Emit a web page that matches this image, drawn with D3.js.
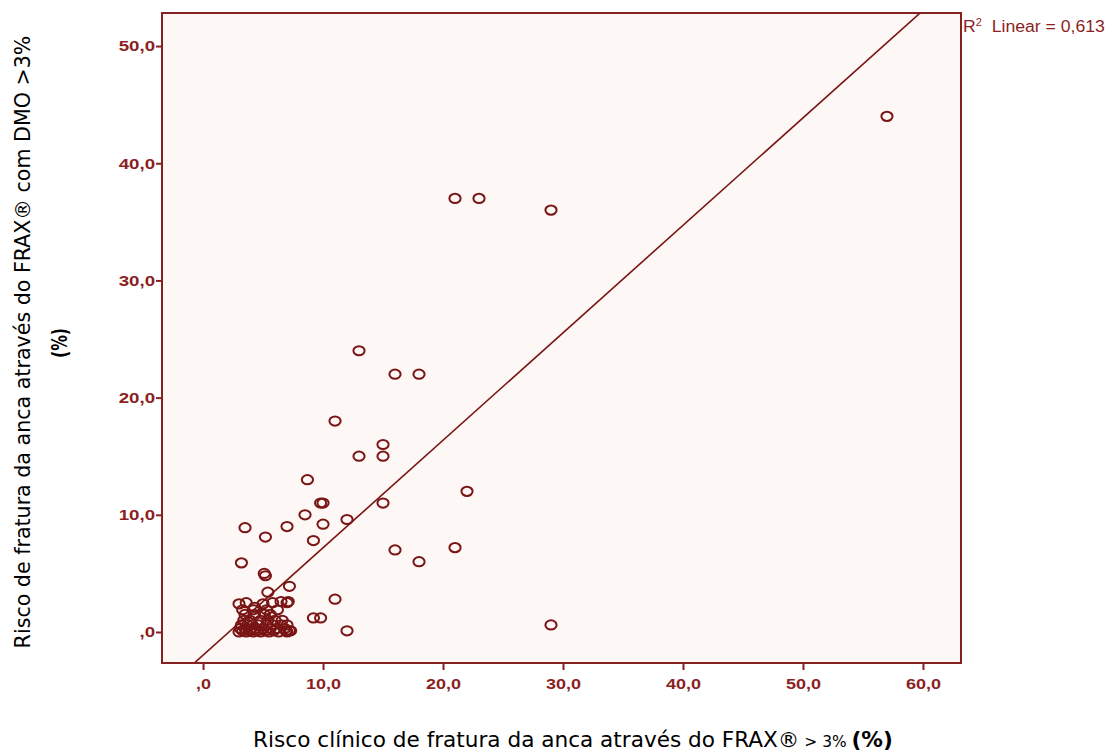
<!DOCTYPE html>
<html><head><meta charset="utf-8">
<script src="https://cdn.jsdelivr.net/npm/d3@7"></script>
<style>body{margin:0;background:#fff}svg{display:block}</style>
</head><body>
<svg id="c" width="1108" height="751"></svg>
<script>
// clinical FRAX risk (x) vs FRAX with DMO (y), %
const xValues = [57,21,23,29,13,16,18,11,15,13,15,8.7,22,9.8,10,15,8.5,12,10,7,3.5,9.2,5.2,16,21,18,3.2,5.1,5.2,7.2,11,5.4,9.2,9.8,12,29,7.3,
  3.0,3.3,3.6,3.9,4.2,4.5,4.8,5.2,5.5,5.9,6.3,6.9,7.0,7.2,
  3.1,3.5,4.0,4.4,5.0,5.6,6.1,6.8,
  3.2,3.7,4.1,4.6,5.3,5.8,6.5,7.0,
  3.4,3.9,4.8,5.4,6.0,6.6,
  3.5,4.3,5.1,5.6,
  3.3,4.2,5.3,6.2,
  3.0,3.6,4.3,5.0,5.8,6.5,7.0,7.1];
const yValues = [44,37,37,36,24,22,22,18,16,15,15,13,12,11,11,11,10,9.6,9.2,9.0,8.9,7.8,8.1,7,7.2,6,5.9,5.0,4.8,3.9,2.8,3.4,1.2,1.2,0.1,0.6,0.1,
  0,0.1,0,0.1,0,0.1,0,0.1,0,0.1,0,0.1,0,0.1,
  0.3,0.3,0.3,0.3,0.3,0.3,0.3,0.3,
  0.6,0.6,0.6,0.6,0.6,0.6,0.6,0.6,
  1.0,1.0,1.0,1.0,1.0,1.0,
  1.5,1.5,1.5,1.5,
  1.9,1.9,1.9,1.9,
  2.4,2.5,2.1,2.4,2.5,2.6,2.5,2.6];
const xTicks = [0,10,20,30,40,50,60];
const yTicks = [0,10,20,30,40,50];
const fitSlope = 0.917, fitIntercept = -1.98;
const r2Label = "0,613";
const xTitle = "Risco clínico de fratura da anca através do FRAX®";
const xTitleSmall = " > 3% ";
const xTitleBold = "(%)";
const yTitle = "Risco de fratura da anca através do FRAX® com DMO >3%";
const yTitle2 = "(%)";

const dark = "#7a1515", tickCol = "#8c1f1f";
const L=162, R=961, T=13, B=663;
const svg = d3.select("#c");
const x = d3.scaleLinear().domain([-3.42, 63.17]).range([L, R]);
const y = d3.scaleLinear().domain([-2.645, 52.82]).range([B, T]);
const fmt = d => d===0 ? ",0" : d.toFixed(1).replace(".", ",");

svg.append("rect").attr("x",L).attr("y",T).attr("width",R-L).attr("height",B-T)
  .attr("fill","#fdf7f6");
svg.append("defs").append("clipPath").attr("id","cp").append("rect")
  .attr("x",L).attr("y",T).attr("width",R-L).attr("height",B-T);

// points
svg.append("g").selectAll("ellipse").data(xValues.map((v,i)=>[v,yValues[i]])).join("ellipse")
  .attr("cx",d=>x(d[0])).attr("cy",d=>y(d[1])).attr("rx",5.6).attr("ry",4.6)
  .attr("fill","none").attr("stroke",dark).attr("stroke-width",2);

// fit line
const xd = x.domain();
svg.append("line").attr("clip-path","url(#cp)")
  .attr("x1",x(xd[0])).attr("y1",y(fitSlope*xd[0]+fitIntercept))
  .attr("x2",x(xd[1])).attr("y2",y(fitSlope*xd[1]+fitIntercept))
  .attr("stroke",dark).attr("stroke-width",1.6);

// frame
svg.append("rect").attr("x",L).attr("y",T).attr("width",R-L).attr("height",B-T)
  .attr("fill","none").attr("stroke","#872020").attr("stroke-width",2);

// axes
const gx = svg.append("g").attr("transform",`translate(0,${B})`)
  .call(d3.axisBottom(x).tickValues(xTicks).tickFormat(fmt).tickSize(7).tickPadding(6));
const gy = svg.append("g").attr("transform",`translate(${L},0)`)
  .call(d3.axisLeft(y).tickValues(yTicks).tickFormat(fmt).tickSize(6).tickPadding(4));
[gx,gy].forEach(g=>{
  g.select(".domain").remove();
  g.selectAll(".tick line").attr("stroke","#872020").attr("stroke-width",2);
  g.selectAll(".tick text").attr("fill",tickCol).attr("font-family","Liberation Sans, Arial, sans-serif")
    .attr("font-size",15).attr("font-weight","bold");
});
gy.selectAll(".tick text").attr("transform","scale(1.25,1)").attr("x",-5.5);
gx.selectAll(".tick text").attr("transform","scale(1.2,1)").attr("dy","0.9em");

function fitWidth(sel, target, ax, ay, rot) {
  const w = sel.node().getComputedTextLength();
  const s = target / w;
  sel.attr("transform", `translate(${ax},${ay}) ${rot ? "rotate(-90)" : ""} scale(${s},1)`);
}

// R2 label
const r2 = svg.append("text").attr("fill",tickCol)
  .attr("font-family","Liberation Sans, Arial, sans-serif").attr("font-size",16);
r2.append("tspan").text("R");
r2.append("tspan").attr("font-size",10).attr("dy",-6).text("2");
r2.append("tspan").attr("dy",6).text("\u00a0 Linear = " + r2Label);
fitWidth(r2, 142, 963, 32, false);

// x title
const xt = svg.append("text").attr("text-anchor","middle")
  .attr("font-family","DejaVu Sans Condensed, DejaVu Sans, sans-serif").attr("font-size",21).attr("fill","#000");
xt.append("tspan").text(xTitle);
xt.append("tspan").attr("font-size",15).text(xTitleSmall);
xt.append("tspan").attr("font-weight","bold").text(xTitleBold);
fitWidth(xt, 640, 573, 747, false);

// y title
const ff = "DejaVu Sans Condensed, DejaVu Sans, sans-serif";
const yt1 = svg.append("text").attr("text-anchor","middle").attr("font-family",ff)
  .attr("font-size",21).attr("fill","#000").text(yTitle);
fitWidth(yt1, 613, 30, 342, true);
const yt2 = svg.append("text").attr("text-anchor","middle").attr("font-family",ff)
  .attr("font-size",21).attr("font-weight","bold").attr("fill","#000").text(yTitle2);
fitWidth(yt2, 30, 67, 343, true);
</script>
</body></html>
